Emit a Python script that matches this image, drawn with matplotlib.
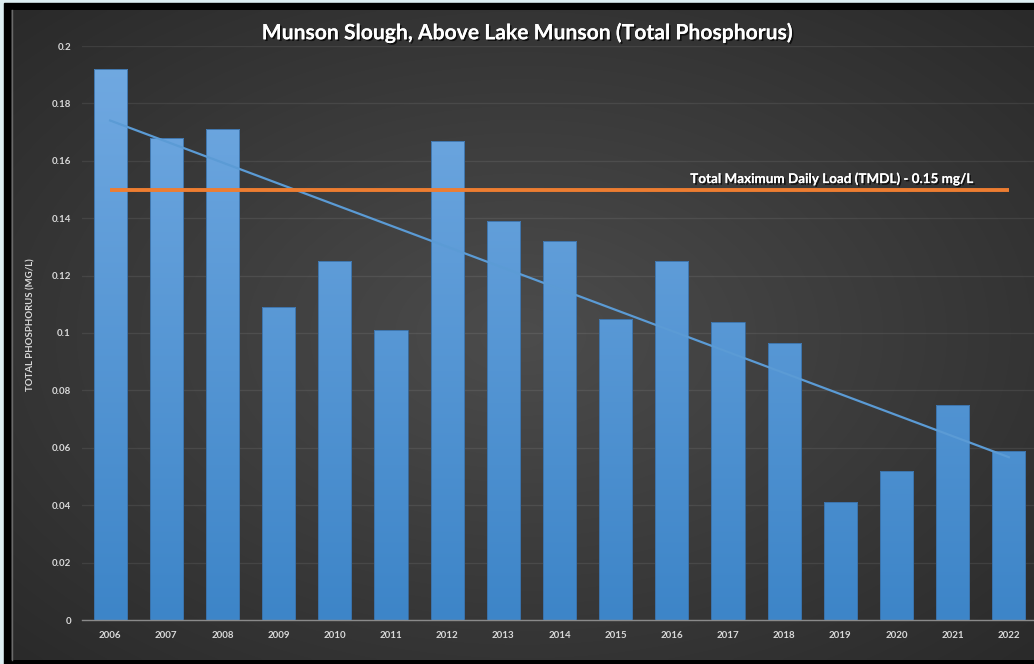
import numpy as np
import matplotlib
matplotlib.use("Agg")
import matplotlib.pyplot as plt
import matplotlib.patheffects as pe
from matplotlib.patches import Rectangle
from matplotlib.ticker import FuncFormatter, MultipleLocator

years = ["2006", "2007", "2008", "2009", "2010", "2011", "2012", "2013", "2014",
         "2015", "2016", "2017", "2018", "2019", "2020", "2021", "2022"]
phosphorus = [0.192, 0.168, 0.171, 0.109, 0.125, 0.101, 0.167, 0.139, 0.132,
              0.105, 0.125, 0.104, 0.0965, 0.041, 0.052, 0.075, 0.059]
tmdl = 0.15
title = "Munson Slough, Above Lake Munson (Total Phosphorus)"
tmdl_label = "Total Maximum Daily Load (TMDL) - 0.15 mg/L"
ylabel = "TOTAL PHOSPHORUS (MG/L)"

W, H = 1034, 664
fig = plt.figure(figsize=(W / 100, H / 100), dpi=100)
FONT = "Lato"

# background axes in pixel coords
bg = fig.add_axes([0, 0, 1, 1], zorder=-10)
bg.set_xlim(0, W)
bg.set_ylim(H, 0)
bg.axis("off")
bg.add_patch(Rectangle((0, 0), W, H, color="#dcedf1", zorder=0.1))
bg.add_patch(Rectangle((4, 3), W, H, color="black", zorder=0.2))
# radial gradient chart area
x0, x1, y0, y1 = 11, W, 10, 660
gx = np.linspace(-1, 1, 400)
gy = np.linspace(-1, 1, 260)
GX, GY = np.meshgrid(gx, gy)
r = np.clip(np.sqrt(GX ** 2 + GY ** 2) / np.sqrt(2), 0, 1)
c_in = np.array([0x4c, 0x4c, 0x4c]) / 255
c_out = np.array([0x2a, 0x2a, 0x2a]) / 255
img = c_in[None, None, :] * (1 - r[..., None]) + c_out[None, None, :] * r[..., None]
bg.imshow(img, extent=(x0, x1, y1, y0), aspect="auto", interpolation="bilinear", zorder=0.5)
bg.set_xlim(0, W)
bg.set_ylim(H, 0)
bg.plot([x0 + 0.5, x0 + 0.5], [y0, y1], color="#6a6a6a", lw=1, zorder=1)

shadow = [pe.withSimplePatchShadow(offset=(1.2, -1.2), shadow_rgbFace="black", alpha=0.7), pe.Normal()]
bg.text(527, 33, title, ha="center", va="center", color="white", fontsize=15.2,
        fontweight="bold", family=FONT, path_effects=shadow, zorder=2)
bg.text(31, 325, ylabel, ha="center", va="center", rotation=90, color="#d9d9d9",
        fontsize=6.9, fontweight="bold", family=FONT, zorder=2)

# main axes
left, right, top, bottom = 82, 1037, 46, 620
ax = fig.add_axes([left / W, (H - bottom) / H, (right - left) / W, (bottom - top) / H])
ax.set_facecolor("none")
x = np.arange(len(years))

bars = ax.bar(x, phosphorus, width=0.59, color="none", edgecolor="#3a6fa5", lw=0.6, zorder=3)
grad = np.linspace(0, 1, 256)[:, None]
top_c = np.array([0x72, 0xaa, 0xe2]) / 255
bot_c = np.array([0x3d, 0x85, 0xc8]) / 255
gimg = (top_c[None, None, :] * grad[..., None] + bot_c[None, None, :] * (1 - grad[..., None]))
for b in bars:
    bx, bw = b.get_x(), b.get_width()
    im = ax.imshow(gimg, extent=(bx, bx + bw, 0, 0.2), origin="lower", aspect="auto", zorder=2)
    im.set_clip_path(b)
ax.set_xlim(-0.5, len(years) - 0.5)
ax.set_ylim(0, 0.2)

# trend line
coef = np.polyfit(x, phosphorus, 1)
ax.plot([x[0], x[-1]], np.polyval(coef, [x[0], x[-1]]), color="#5b9bd5", lw=1.6, zorder=4)
# TMDL line
ax.plot([x[0], x[-1]], [tmdl, tmdl], color="#ed7d31", lw=2.8, zorder=5, solid_capstyle="butt")
ax.text(15.4, tmdl + 0.0015, tmdl_label, ha="right", va="bottom", color="white", fontsize=9.7,
        fontweight="bold", family=FONT, path_effects=shadow, zorder=6)

ax.yaxis.set_major_locator(MultipleLocator(0.02))
ax.yaxis.set_major_formatter(FuncFormatter(lambda v, p: f"{v:.2f}".rstrip("0").rstrip(".") if v else "0"))
ax.set_xticks(x)
ax.set_xticklabels(years)
ax.grid(axis="y", color="white", alpha=0.08, lw=0.9, zorder=0)
for s in ["top", "right", "left"]:
    ax.spines[s].set_visible(False)
ax.spines["bottom"].set_color("#8a8a8a")
ax.spines["bottom"].set_linewidth(1.0)
ax.tick_params(axis="both", length=0, colors="#d9d9d9", labelsize=7)
ax.tick_params(axis="y", pad=8)
ax.tick_params(axis="x", pad=8)
for lab in ax.get_xticklabels() + ax.get_yticklabels():
    lab.set_family(FONT)
    lab.set_fontweight("bold")

fig.savefig("out.png", dpi=100)
